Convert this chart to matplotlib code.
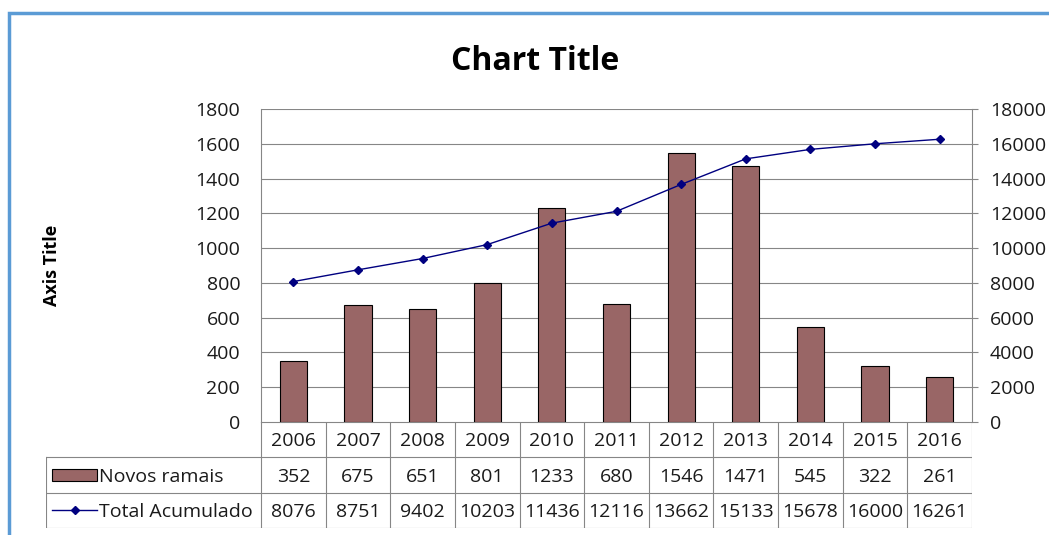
import numpy as np
from matplotlib import pyplot as plt
from matplotlib.patches import Rectangle

anos = ["2006", "2007", "2008", "2009", "2010", "2011", "2012", "2013", "2014", "2015", "2016"]
novos_ramais = [352, 675, 651, 801, 1233, 680, 1546, 1471, 545, 322, 261]
total_acumulado = [8076, 8751, 9402, 10203, 11436, 12116, 13662, 15133, 15678, 16000, 16261]

plt.rcParams['font.family'] = ['Open Sans', 'DejaVu Sans']
W, H = 1049, 535
fig = plt.figure(figsize=(W / 100, H / 100), dpi=100)

def px(x0, y0, x1, y1):
    # pixel box (top-left origin) -> figure fraction [l, b, w, h]
    return [x0 / W, 1 - y1 / H, (x1 - x0) / W, (y1 - y0) / H]

barcol = "#996666"
linecol = "#000080"
gridcol = "#868686"
txtcol = "#1a1a1a"
fs = 14
n = len(anos)
x = np.arange(n)

ax = fig.add_axes(px(261, 109, 972, 422))
ax.bar(x, novos_ramais, width=0.42, color=barcol, edgecolor="black", linewidth=0.8, zorder=2)
ax.set_xlim(-0.5, n - 0.5)
ax.set_ylim(0, 1800)
ax.set_yticks(range(0, 1801, 200))
ax.yaxis.grid(True, color=gridcol, linewidth=0.8)
ax.set_axisbelow(True)
ax.set_xticks([])
for s in ["top", "bottom", "right"]:
    ax.spines[s].set_visible(False)
ax.spines["left"].set_color(gridcol)
ax.tick_params(axis="y", labelsize=fs, length=0, pad=15, labelcolor=txtcol)

ax2 = ax.twinx()
ax2.plot(x, total_acumulado, color=linecol, linewidth=1, marker="D", markersize=4, zorder=3)
ax2.set_ylim(0, 18000)
ax2.set_yticks(range(0, 18001, 2000))
for s in ["top", "bottom", "left"]:
    ax2.spines[s].set_visible(False)
ax2.spines["right"].set_color(gridcol)
ax2.tick_params(axis="y", labelsize=fs, length=4, color=gridcol, pad=9, labelcolor=txtcol)

fig.text(535 / W, 1 - 61 / H, "Chart Title", ha="center", va="center", fontsize=23, fontweight="bold")
fig.text(52 / W, 1 - 265 / H, "Axis Title", ha="center", va="center", rotation=90,
         fontsize=13, fontweight="bold")

# data table below the plot
colw = 711 / n
lab_w = (261 - 46) / colw
tb = fig.add_axes(px(46, 422, 972, 528))
tb.set_xlim(-0.5 - lab_w, n - 0.5)
tb.set_ylim(0, 3)
tb.axis("off")
lk = dict(color=gridcol, linewidth=0.8)
tb.plot([-0.5, n - 0.5], [3, 3], **lk)
tb.plot([-0.5 - lab_w, n - 0.5], [2, 2], **lk)
tb.plot([-0.5 - lab_w, n - 0.5], [1, 1], **lk)
tb.plot([-0.5 - lab_w, n - 0.5], [0, 0], **lk)
tb.plot([-0.5 - lab_w] * 2, [0, 2], **lk)
for i in range(n + 1):
    tb.plot([i - 0.5] * 2, [0, 3], **lk)
for i in range(n):
    tb.text(i, 2.45, anos[i], ha="center", va="center", fontsize=fs, color=txtcol)
    tb.text(i, 1.45, str(novos_ramais[i]), ha="center", va="center", fontsize=fs, color=txtcol)
    tb.text(i, 0.45, str(total_acumulado[i]), ha="center", va="center", fontsize=fs, color=txtcol)
x0 = -0.5 - lab_w
kw = 45 / colw
tb.add_patch(Rectangle((x0 + 6 / colw, 1.32), kw, 0.36, facecolor=barcol, edgecolor="black", linewidth=0.8))
tb.text(x0 + 6 / colw + kw + 2 / colw, 1.45, "Novos ramais", ha="left", va="center", fontsize=fs, color=txtcol)
tb.plot([x0 + 6 / colw, x0 + 6 / colw + kw], [0.5, 0.5], color=linecol, linewidth=1)
tb.plot([x0 + 6 / colw + kw / 2], [0.5], color=linecol, marker="D", markersize=4)
tb.text(x0 + 6 / colw + kw + 2 / colw, 0.45, "Total Acumulado", ha="left", va="center", fontsize=fs, color=txtcol)

# chart border
fig.add_artist(Rectangle((9 / W, -0.1), 1.2, 1 - 13 / H + 0.1, transform=fig.transFigure,
                         fill=False, edgecolor="#5B9BD5", linewidth=2.5))

fig.savefig("out.png", dpi=100)
